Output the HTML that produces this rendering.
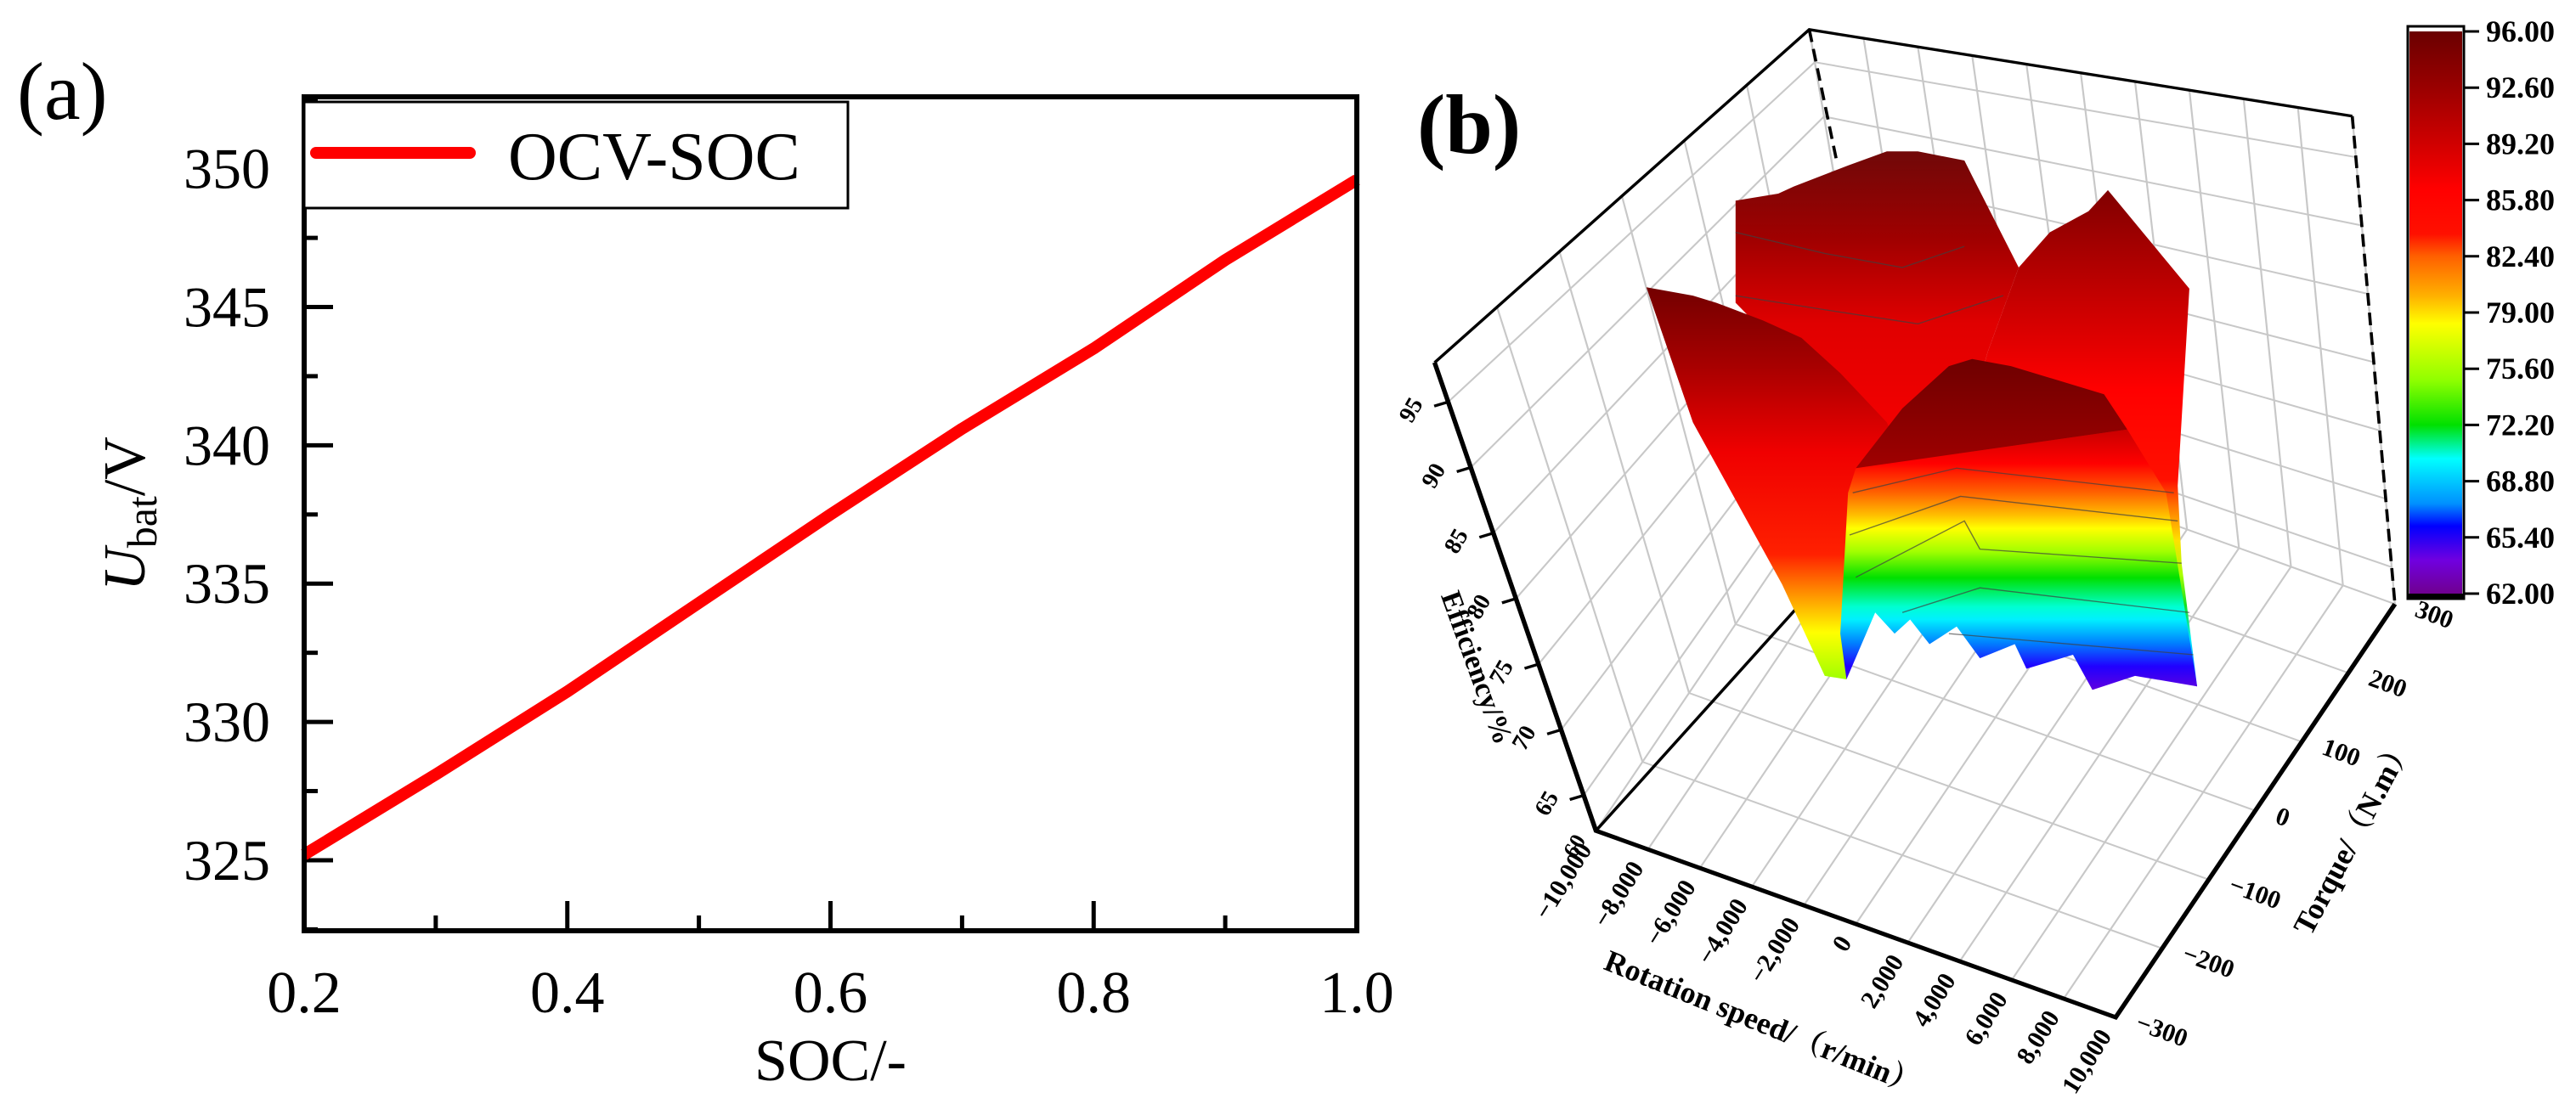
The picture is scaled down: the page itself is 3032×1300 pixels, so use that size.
<!DOCTYPE html>
<html><head><meta charset="utf-8">
<style>
html,body{margin:0;padding:0;background:#fff;}
svg{display:block;}
</style></head>
<body>
<svg id="fig" width="3032" height="1300" viewBox="0 0 3032 1300" xmlns="http://www.w3.org/2000/svg">
<defs>
<linearGradient id="gP1" gradientUnits="userSpaceOnUse" x1="0" y1="220" x2="0" y2="700">
<stop offset="0" stop-color="#720808"/><stop offset="0.25" stop-color="#a00000"/><stop offset="0.5" stop-color="#e00000"/><stop offset="1" stop-color="#ff0000"/></linearGradient>
<linearGradient id="gP2" gradientUnits="userSpaceOnUse" x1="0" y1="270" x2="0" y2="980">
<stop offset="0" stop-color="#800000"/><stop offset="0.2" stop-color="#c00000"/><stop offset="0.4" stop-color="#ff0000"/><stop offset="0.58" stop-color="#ff1000"/><stop offset="0.63" stop-color="#ff7000"/><stop offset="0.7" stop-color="#ffe000"/><stop offset="0.77" stop-color="#a8ff00"/><stop offset="0.83" stop-color="#10e020"/><stop offset="0.9" stop-color="#00f0ff"/><stop offset="0.96" stop-color="#0070ff"/><stop offset="1" stop-color="#2020ff"/></linearGradient>
<linearGradient id="gP3" gradientUnits="userSpaceOnUse" x1="0" y1="410" x2="0" y2="965">
<stop offset="0" stop-color="#740000"/><stop offset="0.2" stop-color="#a80000"/><stop offset="0.42" stop-color="#f00000"/><stop offset="0.68" stop-color="#ff2000"/><stop offset="0.78" stop-color="#ff9000"/><stop offset="0.88" stop-color="#ffff00"/><stop offset="1" stop-color="#a0ff00"/></linearGradient>
<linearGradient id="gTop" gradientUnits="userSpaceOnUse" x1="0" y1="510" x2="0" y2="665">
<stop offset="0" stop-color="#6e0000"/><stop offset="1" stop-color="#a00000"/></linearGradient>
<linearGradient id="gP4" gradientUnits="userSpaceOnUse" x1="0" y1="610" x2="0" y2="980">
<stop offset="0" stop-color="#c80000"/><stop offset="0.13" stop-color="#ff0000"/><stop offset="0.24" stop-color="#ff6000"/><stop offset="0.33" stop-color="#ffc000"/><stop offset="0.38" stop-color="#ffff00"/><stop offset="0.47" stop-color="#a0ff00"/><stop offset="0.57" stop-color="#00e000"/><stop offset="0.68" stop-color="#00ffd0"/><stop offset="0.73" stop-color="#00f0ff"/><stop offset="0.82" stop-color="#0080ff"/><stop offset="0.91" stop-color="#2000ff"/><stop offset="1" stop-color="#6000e0"/></linearGradient>
<linearGradient id="gBar" x1="0" y1="0" x2="0" y2="1">
<stop offset="0" stop-color="#6a0000"/><stop offset="0.1" stop-color="#9a0000"/><stop offset="0.2" stop-color="#d00000"/><stop offset="0.28" stop-color="#ff0000"/><stop offset="0.36" stop-color="#ff1000"/><stop offset="0.4" stop-color="#ff6000"/><stop offset="0.47" stop-color="#ffb000"/><stop offset="0.52" stop-color="#ffff00"/><stop offset="0.62" stop-color="#90ff00"/><stop offset="0.7" stop-color="#00e000"/><stop offset="0.76" stop-color="#00ffff"/><stop offset="0.84" stop-color="#0090ff"/><stop offset="0.88" stop-color="#0000ff"/><stop offset="0.94" stop-color="#7000e0"/><stop offset="1" stop-color="#700090"/></linearGradient>
</defs>
<g id="panelA"></g>
<g id="panelB"></g>
</svg>
<script>
// ---------- Panel (a) data ----------
const socValues = [0.2,0.3,0.4,0.5,0.6,0.7,0.8,0.9,1.0];
const ocvValues = [325.2,328.1,331.1,334.3,337.5,340.6,343.5,346.7,349.6];
const xTickLabels = ["0.2","0.4","0.6","0.8","1.0"];
const xTickValues = [0.2,0.4,0.6,0.8,1.0];
const yTickValues = [325,330,335,340,345,350];
const yTickLabels = ["325","330","335","340","345","350"];
// ---------- Panel (b) data ----------
const colorbarLabels = ["96.00","92.60","89.20","85.80","82.40","79.00","75.60","72.20","68.80","65.40","62.00"];
const effTicks = [65,70,75,80,85,90,95];
const speedTicks = [-10000,-8000,-6000,-4000,-2000,0,2000,4000,6000,8000,10000];
const speedTickLabels = ["\u221210,000","\u22128,000","\u22126,000","\u22124,000","\u22122,000","0","2,000","4,000","6,000","8,000","10,000"];
const torqueTicks = [-300,-200,-100,0,100,200,300];
const torqueTickLabels = ["\u2212300","\u2212200","\u2212100","0","100","200","300"];

const NS="http://www.w3.org/2000/svg";
function mk(parent,tag,attrs,text){const e=document.createElementNS(NS,tag);for(const k in attrs)e.setAttribute(k,attrs[k]);if(text!==undefined)e.textContent=text;parent.appendChild(e);return e;}

// ===== Panel A =====
const A=document.getElementById('panelA');
const L=358,R=1597,T=114,B=1096, YMIN=322.45,YMAX=352.6,XMIN=0.2,XMAX=1.0;
const xs=v=>L+(v-XMIN)/(XMAX-XMIN)*(R-L);
const ys=v=>B-(v-YMIN)/(YMAX-YMIN)*(B-T);
const serif='"Liberation Serif", serif';
let t;
t=mk(A,'text',{x:20,y:140,'font-family':serif,'font-size':96},'(a)');

for(let v=0.2;v<=1.0001;v+=0.1){const x=xs(v);const major=Math.round(v*10)%2===0;
 const ln=mk(A,'line',{x1:x,x2:x,y1:B,y2:B-(major?35:18),stroke:'#000','stroke-width':5});
 }
for(let v=322.5;v<=352.6;v+=2.5){const y=ys(v);const major=Math.abs(v%5)<0.01;
 const ln=mk(A,'line',{x1:L,x2:L+(major?34:16),y1:y,y2:y,stroke:'#000','stroke-width':5});
 }
xTickValues.forEach((v,i)=>{const e=mk(A,'text',{x:xs(v),y:1192,'text-anchor':'middle','font-family':serif,'font-size':70},xTickLabels[i]);
 });
yTickValues.forEach((v,i)=>{const e=mk(A,'text',{x:318,y:ys(v)+23,'text-anchor':'end','font-family':serif,'font-size':68},yTickLabels[i]);
 });
t=mk(A,'text',{x:xs(0.6),y:1272,'text-anchor':'middle','font-family':serif,'font-size':70},'SOC/-');

const yl=mk(A,'text',{x:0,y:0,'text-anchor':'middle','font-family':serif,'font-size':70,transform:'translate(170,605) rotate(-90)'});

mk(yl,'tspan',{'font-style':'italic'},'U');mk(yl,'tspan',{'font-size':50,dy:14},'bat');mk(yl,'tspan',{dy:-14},'/V');
let d='';socValues.forEach((v,i)=>{d+=(i?'L':'M')+xs(v).toFixed(1)+','+ys(ocvValues[i]).toFixed(1);});
const pl=mk(A,'path',{d:d,fill:'none',stroke:'#ff0000','stroke-width':14,'stroke-linejoin':'round'});

const fr=mk(A,'rect',{x:L,y:T,width:R-L,height:B-T,fill:'none',stroke:'#000','stroke-width':6});

const lg=mk(A,'g',{});
mk(lg,'rect',{x:L,y:120,width:640,height:125,fill:'#fff',stroke:'#000','stroke-width':3});
mk(lg,'line',{x1:372,x2:553,y1:180,y2:180,stroke:'#ff0000','stroke-width':14,'stroke-linecap':'round'});
t=mk(lg,'text',{x:598,y:211,'font-family':serif,'font-size':80},'OCV-SOC');


// ===== Panel B =====
const P=document.getElementById('panelB');
const SX=0.913,SY=0.829;
const toO=(p)=>[1600+p[0]*SX,p[1]*SY];
const F=[305,1180],E=[975,1445],G=[665,593];
const offA=[-208,-665],offB=[30,-142],offC=[123,114];
const ZMIN=62.3,ZMAX=98;
function proj(speed,torque,eff){const s=(speed+10000)/20000,tt=(torque+300)/600,k=(eff-ZMIN)/(ZMAX-ZMIN);
 const fx=F[0]+s*(E[0]-F[0])+tt*(G[0]-F[0]),fy=F[1]+s*(E[1]-F[1])+tt*(G[1]-F[1]);
 const ox=offA[0]+s*offB[0]+tt*offC[0],oy=offA[1]+s*offB[1]+tt*offC[1];
 return [fx+k*ox,fy+k*oy];}
const g=mk(P,'g',{transform:`translate(1600,0) scale(${SX},${SY})`});
const grid=mk(g,'g',{stroke:'#c8c8c8','stroke-width':2.4,fill:'none'});

function seg(p,q){mk(grid,'line',{x1:p[0],y1:p[1],x2:q[0],y2:q[1]});}
for(let sp=-10000;sp<=10000;sp+=2000){seg(proj(sp,-300,ZMIN),proj(sp,300,ZMIN));seg(proj(sp,300,ZMIN),proj(sp,300,ZMAX));}
for(let tq=-300;tq<=300;tq+=100){seg(proj(-10000,tq,ZMIN),proj(10000,tq,ZMIN));seg(proj(-10000,tq,ZMIN),proj(-10000,tq,ZMAX));}
for(let z=65;z<=95;z+=5){seg(proj(-10000,-300,z),proj(-10000,300,z));seg(proj(-10000,300,z),proj(10000,300,z));}
const bx=mk(g,'g',{stroke:'#000','stroke-width':4,fill:'none'});

const pA=proj(-10000,-300,ZMAX),pB=proj(-10000,300,ZMAX),pC=proj(10000,300,ZMAX),pD=proj(10000,300,ZMIN),pE=proj(10000,-300,ZMIN),pF=proj(-10000,-300,ZMIN);
mk(bx,'polyline',{points:[pA,pB,pC].map(p=>p.join(',')).join(' ')});
mk(bx,'polyline',{points:[pD,pE,pF,pA].map(p=>p.join(',')).join(' '),'stroke-width':6});
mk(bx,'line',{x1:pC[0],y1:pC[1],x2:pD[0],y2:pD[1],'stroke-dasharray':'18,10'});
mk(bx,'line',{x1:pB[0],y1:pB[1],x2:pB[0]+35,y2:pB[1]+185,'stroke-dasharray':'18,10'});
mk(bx,'line',{x1:pF[0],y1:pF[1],x2:pF[0]+270,y2:pF[1]-330});
// z ticks
effTicks.forEach(z=>{const p=proj(-10000,-300,z);mk(bx,'line',{x1:p[0],y1:p[1],x2:p[0]-18,y2:p[1]+6,'stroke-width':4});});
const surf=mk(g,'g',{});
function poly(pts,fill,name){const e=mk(surf,'polygon',{points:pts.map(p=>p.join(',')).join(' '),fill:fill});}
poly([[485,285],[540,275],[560,265],[630,235],[680,215],[720,215],[780,228],[790,250],[850,380],[810,500],[760,700],[640,700],[600,560],[485,430]],'url(#gP1)','surface-back-plateau');
poly([[850,380],[890,330],[940,300],[965,270],[1010,330],[1070,410],[1055,690],[1060,800],[1080,975],[960,940],[800,860],[760,700],[810,500]],'url(#gP2)','surface-right-peak');
poly([[370,408],[430,420],[460,430],[520,455],[570,480],[620,530],[680,600],[700,650],[660,760],[628,965],[600,960],[545,830],[430,600]],'url(#gP3)','surface-left-wing');
poly([[640,665],[990,610],[1040,700],[1080,975],[1000,960],[945,980],[920,930],[860,950],[845,915],[800,935],[770,890],[735,915],[710,880],[690,900],[665,870],[628,965],[620,900],[630,700]],'url(#gP4)','surface-front-face');
poly([[640,665],[700,580],[760,520],[790,510],[840,520],[960,560],[990,610]],'url(#gTop)','surface-front-ridge');
const cont=mk(surf,'g',{stroke:'#404040','stroke-width':1.6,fill:'none',opacity:0.7});

[[[636,700],[770,665],[1050,700]],[[632,760],[775,705],[1055,740]],[[640,820],[780,740],[800,780],[1060,800]],[[700,870],[800,835],[1070,870]],[[760,900],[1075,930]],[[485,330],[600,360],[700,380],[780,350]],[[485,420],[600,440],[720,460],[830,420]]].forEach(c=>mk(cont,'polyline',{points:c.map(p=>p.join(',')).join(' ')}));
effTicks.forEach(z=>{const p=toO(proj(-10000,-300,z));
 const e=mk(P,'text',{x:0,y:0,'font-family':serif,'font-weight':'bold','font-size':28,'text-anchor':'middle',transform:`translate(${p[0]-36},${p[1]+14}) rotate(-60)`},String(z));
 });
{const p=toO(pF);const e=mk(P,'text',{x:0,y:0,'font-family':serif,'font-weight':'bold','font-size':26,'text-anchor':'middle',transform:`translate(${p[0]-18},${p[1]+22}) rotate(-60)`},'60');
 }
speedTicks.forEach((s,i)=>{const p=toO(proj(s,-300,ZMIN));
 const e=mk(P,'text',{x:0,y:0,'font-family':serif,'font-weight':'bold','font-size':30,'text-anchor':'end',transform:`translate(${p[0]-4},${p[1]+22}) rotate(-58)`},speedTickLabels[i]);
 });
torqueTicks.forEach((tq,i)=>{const p=toO(proj(10000,tq,ZMIN));
 const e=mk(P,'text',{x:0,y:0,'font-family':serif,'font-weight':'bold','font-size':30,'text-anchor':'start',transform:`translate(${p[0]+22},${p[1]+14}) rotate(20)`},torqueTickLabels[i]);
 });
t=mk(P,'text',{x:0,y:0,'font-family':serif,'font-weight':'bold','font-size':34,'text-anchor':'middle',transform:'translate(1728,790) rotate(70)'},'Efficiency/%');

t=mk(P,'text',{x:0,y:0,'font-family':'"Liberation Serif","Noto Serif CJK SC",serif','font-weight':'bold','font-size':36,'text-anchor':'middle',transform:'translate(2070,1215) rotate(22)'},'Rotation speed/（r/min）');

t=mk(P,'text',{x:0,y:0,'font-family':'"Liberation Serif","Noto Serif CJK SC",serif','font-weight':'bold','font-size':36,'text-anchor':'middle',transform:'translate(2780,990) rotate(-62)'},'Torque/（N.m）');

t=mk(P,'text',{x:1668,y:180,'font-family':serif,'font-weight':'bold','font-size':100},'(b)');

const cb=mk(P,'g',{});
const CT=31,CBt=705,CX=2834,CW=66;
mk(cb,'rect',{x:CX,y:CT,width:CW,height:CBt-CT,fill:'#fff',stroke:'#000','stroke-width':3});
mk(cb,'rect',{x:CX+2,y:CT+6,width:CW-4,height:CBt-CT-12,fill:'url(#gBar)'});
mk(cb,'rect',{x:CX,y:CBt-6,width:CW,height:6,fill:'#000'});
colorbarLabels.forEach((s,i)=>{const y=CT+6+i*(CBt-CT-12)/(colorbarLabels.length-1);
 mk(cb,'line',{x1:CX+CW,x2:CX+CW+18,y1:y,y2:y,stroke:'#000','stroke-width':3});
 const e=mk(cb,'text',{x:CX+CW+26,y:y+12,'font-family':serif,'font-weight':'bold','font-size':36},s);
 });
</script>
</body></html>
